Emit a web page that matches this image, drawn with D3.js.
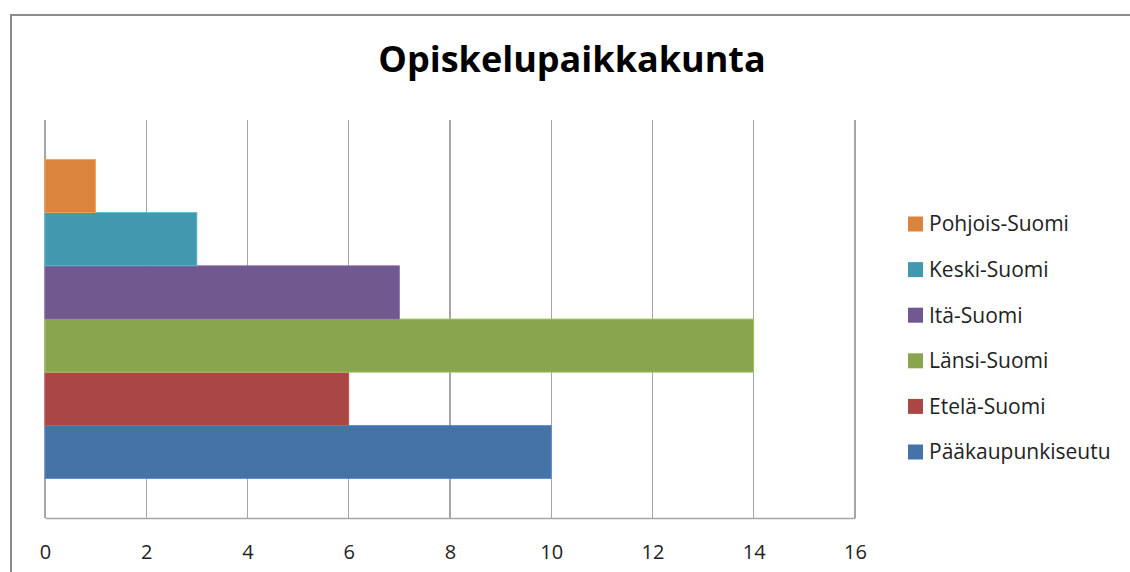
<!DOCTYPE html>
<html><head><meta charset="utf-8">
<script src="https://cdn.jsdelivr.net/npm/d3@7"></script>
<style>body{margin:0;background:#fff}svg{display:block}</style>
</head><body>
<script>
const title = "Opiskelupaikkakunta";
const series = ["Pääkaupunkiseutu","Etelä-Suomi","Länsi-Suomi","Itä-Suomi","Keski-Suomi","Pohjois-Suomi"];
const values = [10, 6, 14, 7, 3, 1];
const colors = ["#4572A7","#AA4643","#89A54E","#71588F","#4198AF","#DB843D"];
const xTicks = [0,2,4,6,8,10,12,14,16];

const W = 1130, H = 572;
const svg = d3.select("body").append("svg").attr("width", W).attr("height", H);
const font = "'Open Sans', 'Liberation Sans', sans-serif";

// outer chart border
svg.append("path").attr("d", `M11,${H} L11,15 L${W},15`).attr("fill","none").attr("stroke","#8c8c8c").attr("stroke-width",2);

svg.append("text").attr("x", 572).attr("y", 72).attr("text-anchor","middle")
  .attr("font-family", font).attr("font-weight","bold").attr("font-size", 36).attr("fill","#000").text(title);

const plot = {left:45, right:855, top:120, bottom:518};
const x = d3.scaleLinear().domain([0,16]).range([plot.left, plot.right]);
const order = series.slice().reverse(); // Pohjois on top
const y = d3.scaleBand().domain(order).range([plot.top, plot.bottom]).paddingInner(0).paddingOuter(0.74);

// gridlines
svg.append("g").selectAll("line").data(xTicks).join("line")
  .attr("x1", d=>x(d)).attr("x2", d=>x(d)).attr("y1", plot.top).attr("y2", plot.bottom)
  .attr("stroke","#a6a6a6").attr("stroke-width",1.2).attr("shape-rendering","crispEdges");

// bars
svg.append("g").selectAll("rect").data(series).join("rect")
  .attr("x", x(0)).attr("y", d=>y(d)).attr("width", (d,i)=>x(values[i])-x(0)).attr("height", y.bandwidth())
  .attr("fill", (d,i)=>colors[i]).attr("stroke", (d,i)=>d3.color(colors[i]).brighter(0.6)).attr("stroke-width",0.8);

// axis
const axis = d3.axisBottom(x).tickValues(xTicks).tickSize(0).tickPadding(0);
const ag = svg.append("g").attr("transform", `translate(0,${plot.bottom})`).call(axis);
ag.select(".domain").attr("stroke","#a6a6a6").attr("stroke-width",1.5);
ag.selectAll("text").attr("font-family", font).attr("font-size", 20).attr("fill","#222").attr("dy", "0.85em").attr("y", 24);

// legend
const lg = svg.append("g");
const rowH = 45.6, ly0 = 224;
order.forEach((s, k) => {
  const i = series.indexOf(s);
  const cy = ly0 + k*rowH;
  lg.append("rect").attr("x", 908).attr("y", cy-7.5).attr("width", 15).attr("height", 15).attr("fill", colors[i]);
  lg.append("text").attr("x", 929).attr("y", cy).attr("dy","0.35em").attr("font-family", font)
    .attr("font-size", 21).attr("fill","#222").text(s);
});
</script>
</body></html>
